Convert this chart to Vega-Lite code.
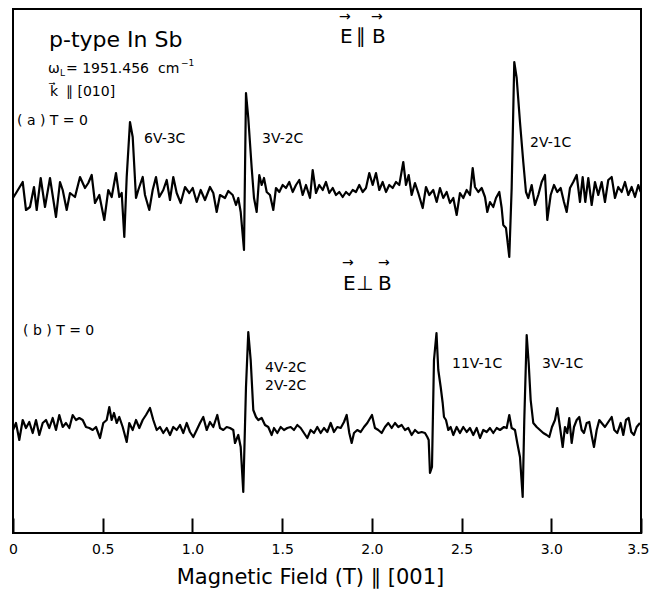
{
"$schema": "https://vega.github.io/schema/vega-lite/v6.json",
"width": 628, "height": 524,
"autosize": {"type": "none"},
"padding": {"left": 13, "top": 9, "right": 8, "bottom": 57},
"config": {"view": {"stroke": "black", "strokeWidth": 2}, "font": "DejaVu Sans"},
"datasets": {
"trace": [
{"trace":"a","tesla":0,"signal":335},{"trace":"a","tesla":0.0206,"signal":341},{"trace":"a","tesla":0.0541,"signal":351},{"trace":"a","tesla":0.0724,"signal":323},{"trace":"a","tesla":0.0947,"signal":326},{"trace":"a","tesla":0.117,"signal":346},{"trace":"a","tesla":0.1321,"signal":323},{"trace":"a","tesla":0.1544,"signal":355},{"trace":"a","tesla":0.1783,"signal":326},{"trace":"a","tesla":0.2062,"signal":355},{"trace":"a","tesla":0.2396,"signal":316},{"trace":"a","tesla":0.2619,"signal":351},{"trace":"a","tesla":0.277,"signal":343},{"trace":"a","tesla":0.2993,"signal":323},{"trace":"a","tesla":0.3177,"signal":340},{"trace":"a","tesla":0.3455,"signal":336},{"trace":"a","tesla":0.3734,"signal":356},{"trace":"a","tesla":0.4013,"signal":345},{"trace":"a","tesla":0.4196,"signal":350},{"trace":"a","tesla":0.4386,"signal":358},{"trace":"a","tesla":0.457,"signal":330},{"trace":"a","tesla":0.481,"signal":338},{"trace":"a","tesla":0.5088,"signal":313},{"trace":"a","tesla":0.5311,"signal":343},{"trace":"a","tesla":0.55,"signal":336},{"trace":"a","tesla":0.574,"signal":360},{"trace":"a","tesla":0.5924,"signal":336},{"trace":"a","tesla":0.6058,"signal":340},{"trace":"a","tesla":0.6203,"signal":296},{"trace":"a","tesla":0.6337,"signal":356},{"trace":"a","tesla":0.652,"signal":411},{"trace":"a","tesla":0.6671,"signal":396},{"trace":"a","tesla":0.6855,"signal":335},{"trace":"a","tesla":0.6983,"signal":343},{"trace":"a","tesla":0.7228,"signal":356},{"trace":"a","tesla":0.7356,"signal":338},{"trace":"a","tesla":0.7596,"signal":323},{"trace":"a","tesla":0.7785,"signal":343},{"trace":"a","tesla":0.7969,"signal":356},{"trace":"a","tesla":0.8153,"signal":336},{"trace":"a","tesla":0.8376,"signal":343},{"trace":"a","tesla":0.8566,"signal":353},{"trace":"a","tesla":0.875,"signal":333},{"trace":"a","tesla":0.8933,"signal":356},{"trace":"a","tesla":0.9123,"signal":340},{"trace":"a","tesla":0.9346,"signal":330},{"trace":"a","tesla":0.9586,"signal":346},{"trace":"a","tesla":0.9825,"signal":340},{"trace":"a","tesla":1.0015,"signal":345},{"trace":"a","tesla":1.0238,"signal":331},{"trace":"a","tesla":1.046,"signal":343},{"trace":"a","tesla":1.07,"signal":333},{"trace":"a","tesla":1.0979,"signal":346},{"trace":"a","tesla":1.1163,"signal":340},{"trace":"a","tesla":1.1352,"signal":321},{"trace":"a","tesla":1.1536,"signal":338},{"trace":"a","tesla":1.1815,"signal":335},{"trace":"a","tesla":1.1999,"signal":342},{"trace":"a","tesla":1.2244,"signal":338},{"trace":"a","tesla":1.2428,"signal":328},{"trace":"a","tesla":1.2556,"signal":335},{"trace":"a","tesla":1.269,"signal":321},{"trace":"a","tesla":1.2874,"signal":283},{"trace":"a","tesla":1.2985,"signal":440},{"trace":"a","tesla":1.3113,"signal":415},{"trace":"a","tesla":1.3303,"signal":365},{"trace":"a","tesla":1.3431,"signal":335},{"trace":"a","tesla":1.3581,"signal":321},{"trace":"a","tesla":1.3726,"signal":358},{"trace":"a","tesla":1.386,"signal":348},{"trace":"a","tesla":1.3988,"signal":355},{"trace":"a","tesla":1.4139,"signal":341},{"trace":"a","tesla":1.4323,"signal":338},{"trace":"a","tesla":1.4507,"signal":323},{"trace":"a","tesla":1.4657,"signal":345},{"trace":"a","tesla":1.4841,"signal":341},{"trace":"a","tesla":1.503,"signal":348},{"trace":"a","tesla":1.5214,"signal":345},{"trace":"a","tesla":1.5398,"signal":351},{"trace":"a","tesla":1.5588,"signal":341},{"trace":"a","tesla":1.5772,"signal":348},{"trace":"a","tesla":1.5955,"signal":353},{"trace":"a","tesla":1.6145,"signal":338},{"trace":"a","tesla":1.6329,"signal":348},{"trace":"a","tesla":1.6552,"signal":335},{"trace":"a","tesla":1.6702,"signal":363},{"trace":"a","tesla":1.6886,"signal":340},{"trace":"a","tesla":1.707,"signal":348},{"trace":"a","tesla":1.726,"signal":343},{"trace":"a","tesla":1.7443,"signal":351},{"trace":"a","tesla":1.7627,"signal":340},{"trace":"a","tesla":1.7817,"signal":345},{"trace":"a","tesla":1.8001,"signal":338},{"trace":"a","tesla":1.8185,"signal":341},{"trace":"a","tesla":1.8374,"signal":336},{"trace":"a","tesla":1.8558,"signal":341},{"trace":"a","tesla":1.8742,"signal":338},{"trace":"a","tesla":1.8931,"signal":343},{"trace":"a","tesla":1.9115,"signal":341},{"trace":"a","tesla":1.9299,"signal":348},{"trace":"a","tesla":1.9489,"signal":341},{"trace":"a","tesla":1.9673,"signal":345},{"trace":"a","tesla":1.9857,"signal":360},{"trace":"a","tesla":2.0046,"signal":348},{"trace":"a","tesla":2.023,"signal":360},{"trace":"a","tesla":2.0414,"signal":343},{"trace":"a","tesla":2.0603,"signal":351},{"trace":"a","tesla":2.0787,"signal":341},{"trace":"a","tesla":2.0971,"signal":348},{"trace":"a","tesla":2.1161,"signal":345},{"trace":"a","tesla":2.1345,"signal":351},{"trace":"a","tesla":2.1528,"signal":348},{"trace":"a","tesla":2.1751,"signal":371},{"trace":"a","tesla":2.1902,"signal":348},{"trace":"a","tesla":2.2052,"signal":358},{"trace":"a","tesla":2.2219,"signal":338},{"trace":"a","tesla":2.2403,"signal":350},{"trace":"a","tesla":2.2587,"signal":340},{"trace":"a","tesla":2.2833,"signal":325},{"trace":"a","tesla":2.3016,"signal":346},{"trace":"a","tesla":2.32,"signal":338},{"trace":"a","tesla":2.3423,"signal":343},{"trace":"a","tesla":2.3613,"signal":331},{"trace":"a","tesla":2.3797,"signal":345},{"trace":"a","tesla":2.398,"signal":335},{"trace":"a","tesla":2.417,"signal":341},{"trace":"a","tesla":2.4354,"signal":330},{"trace":"a","tesla":2.4538,"signal":335},{"trace":"a","tesla":2.4727,"signal":318},{"trace":"a","tesla":2.4911,"signal":340},{"trace":"a","tesla":2.5095,"signal":335},{"trace":"a","tesla":2.5285,"signal":343},{"trace":"a","tesla":2.5469,"signal":338},{"trace":"a","tesla":2.5619,"signal":365},{"trace":"a","tesla":2.5747,"signal":346},{"trace":"a","tesla":2.5931,"signal":341},{"trace":"a","tesla":2.6121,"signal":345},{"trace":"a","tesla":2.6305,"signal":336},{"trace":"a","tesla":2.6433,"signal":321},{"trace":"a","tesla":2.6583,"signal":331},{"trace":"a","tesla":2.6767,"signal":326},{"trace":"a","tesla":2.6918,"signal":335},{"trace":"a","tesla":2.7102,"signal":341},{"trace":"a","tesla":2.7235,"signal":325},{"trace":"a","tesla":2.7324,"signal":308},{"trace":"a","tesla":2.7475,"signal":305},{"trace":"a","tesla":2.7659,"signal":276},{"trace":"a","tesla":2.7792,"signal":345},{"trace":"a","tesla":2.7937,"signal":471},{"trace":"a","tesla":2.8071,"signal":455},{"trace":"a","tesla":2.8255,"signal":411},{"trace":"a","tesla":2.8439,"signal":371},{"trace":"a","tesla":2.8589,"signal":341},{"trace":"a","tesla":2.8718,"signal":335},{"trace":"a","tesla":2.8907,"signal":348},{"trace":"a","tesla":2.9091,"signal":328},{"trace":"a","tesla":2.9275,"signal":338},{"trace":"a","tesla":2.9464,"signal":351},{"trace":"a","tesla":2.9648,"signal":358},{"trace":"a","tesla":2.9777,"signal":313},{"trace":"a","tesla":2.9966,"signal":338},{"trace":"a","tesla":3.015,"signal":348},{"trace":"a","tesla":3.0334,"signal":341},{"trace":"a","tesla":3.0523,"signal":345},{"trace":"a","tesla":3.0707,"signal":331},{"trace":"a","tesla":3.0858,"signal":321},{"trace":"a","tesla":3.1042,"signal":345},{"trace":"a","tesla":3.1225,"signal":351},{"trace":"a","tesla":3.1415,"signal":358},{"trace":"a","tesla":3.1599,"signal":331},{"trace":"a","tesla":3.1749,"signal":356},{"trace":"a","tesla":3.1895,"signal":331},{"trace":"a","tesla":3.2062,"signal":355},{"trace":"a","tesla":3.2251,"signal":328},{"trace":"a","tesla":3.2435,"signal":351},{"trace":"a","tesla":3.2619,"signal":338},{"trace":"a","tesla":3.2808,"signal":351},{"trace":"a","tesla":3.2992,"signal":331},{"trace":"a","tesla":3.3176,"signal":353},{"trace":"a","tesla":3.3366,"signal":356},{"trace":"a","tesla":3.355,"signal":335},{"trace":"a","tesla":3.3733,"signal":346},{"trace":"a","tesla":3.3923,"signal":341},{"trace":"a","tesla":3.4107,"signal":351},{"trace":"a","tesla":3.4291,"signal":338},{"trace":"a","tesla":3.448,"signal":346},{"trace":"a","tesla":3.4664,"signal":336},{"trace":"a","tesla":3.4848,"signal":348},{"trace":"a","tesla":3.4981,"signal":341},
{"trace":"b","tesla":0,"signal":103},{"trace":"b","tesla":0.0167,"signal":110},{"trace":"b","tesla":0.0351,"signal":93},{"trace":"b","tesla":0.0541,"signal":113},{"trace":"b","tesla":0.0724,"signal":105},{"trace":"b","tesla":0.0908,"signal":111},{"trace":"b","tesla":0.1098,"signal":100},{"trace":"b","tesla":0.1282,"signal":113},{"trace":"b","tesla":0.1466,"signal":98},{"trace":"b","tesla":0.1655,"signal":110},{"trace":"b","tesla":0.1839,"signal":113},{"trace":"b","tesla":0.2023,"signal":105},{"trace":"b","tesla":0.2212,"signal":115},{"trace":"b","tesla":0.2396,"signal":103},{"trace":"b","tesla":0.258,"signal":118},{"trace":"b","tesla":0.277,"signal":106},{"trace":"b","tesla":0.2954,"signal":110},{"trace":"b","tesla":0.3138,"signal":105},{"trace":"b","tesla":0.3327,"signal":118},{"trace":"b","tesla":0.3511,"signal":113},{"trace":"b","tesla":0.3695,"signal":115},{"trace":"b","tesla":0.3884,"signal":113},{"trace":"b","tesla":0.4068,"signal":106},{"trace":"b","tesla":0.4252,"signal":105},{"trace":"b","tesla":0.4442,"signal":103},{"trace":"b","tesla":0.4626,"signal":106},{"trace":"b","tesla":0.4849,"signal":95},{"trace":"b","tesla":0.5032,"signal":110},{"trace":"b","tesla":0.5222,"signal":113},{"trace":"b","tesla":0.5367,"signal":126},{"trace":"b","tesla":0.55,"signal":113},{"trace":"b","tesla":0.5629,"signal":120},{"trace":"b","tesla":0.5779,"signal":110},{"trace":"b","tesla":0.5924,"signal":116},{"trace":"b","tesla":0.6114,"signal":106},{"trace":"b","tesla":0.6337,"signal":91},{"trace":"b","tesla":0.6481,"signal":110},{"trace":"b","tesla":0.6671,"signal":103},{"trace":"b","tesla":0.6855,"signal":113},{"trace":"b","tesla":0.7039,"signal":105},{"trace":"b","tesla":0.7228,"signal":113},{"trace":"b","tesla":0.7412,"signal":118},{"trace":"b","tesla":0.7635,"signal":125},{"trace":"b","tesla":0.7819,"signal":113},{"trace":"b","tesla":0.8008,"signal":103},{"trace":"b","tesla":0.8192,"signal":106},{"trace":"b","tesla":0.8376,"signal":100},{"trace":"b","tesla":0.8566,"signal":105},{"trace":"b","tesla":0.875,"signal":98},{"trace":"b","tesla":0.8933,"signal":106},{"trace":"b","tesla":0.9123,"signal":103},{"trace":"b","tesla":0.9307,"signal":108},{"trace":"b","tesla":0.9491,"signal":100},{"trace":"b","tesla":0.968,"signal":110},{"trace":"b","tesla":0.9864,"signal":101},{"trace":"b","tesla":1.0048,"signal":96},{"trace":"b","tesla":1.0238,"signal":103},{"trace":"b","tesla":1.0422,"signal":110},{"trace":"b","tesla":1.0605,"signal":116},{"trace":"b","tesla":1.0795,"signal":103},{"trace":"b","tesla":1.0979,"signal":111},{"trace":"b","tesla":1.1163,"signal":106},{"trace":"b","tesla":1.1385,"signal":118},{"trace":"b","tesla":1.1536,"signal":105},{"trace":"b","tesla":1.172,"signal":103},{"trace":"b","tesla":1.1909,"signal":106},{"trace":"b","tesla":1.2093,"signal":105},{"trace":"b","tesla":1.2277,"signal":103},{"trace":"b","tesla":1.2372,"signal":90},{"trace":"b","tesla":1.2556,"signal":98},{"trace":"b","tesla":1.269,"signal":86},{"trace":"b","tesla":1.2834,"signal":41},{"trace":"b","tesla":1.2985,"signal":146},{"trace":"b","tesla":1.3113,"signal":201},{"trace":"b","tesla":1.3247,"signal":173},{"trace":"b","tesla":1.3392,"signal":123},{"trace":"b","tesla":1.3542,"signal":116},{"trace":"b","tesla":1.3671,"signal":113},{"trace":"b","tesla":1.386,"signal":115},{"trace":"b","tesla":1.4044,"signal":108},{"trace":"b","tesla":1.4228,"signal":106},{"trace":"b","tesla":1.4417,"signal":98},{"trace":"b","tesla":1.4546,"signal":105},{"trace":"b","tesla":1.473,"signal":100},{"trace":"b","tesla":1.4919,"signal":106},{"trace":"b","tesla":1.5103,"signal":103},{"trace":"b","tesla":1.5287,"signal":105},{"trace":"b","tesla":1.5476,"signal":106},{"trace":"b","tesla":1.566,"signal":103},{"trace":"b","tesla":1.5844,"signal":108},{"trace":"b","tesla":1.6034,"signal":105},{"trace":"b","tesla":1.6217,"signal":100},{"trace":"b","tesla":1.6401,"signal":95},{"trace":"b","tesla":1.6591,"signal":103},{"trace":"b","tesla":1.6775,"signal":100},{"trace":"b","tesla":1.6959,"signal":106},{"trace":"b","tesla":1.7148,"signal":100},{"trace":"b","tesla":1.7332,"signal":105},{"trace":"b","tesla":1.7516,"signal":101},{"trace":"b","tesla":1.7705,"signal":110},{"trace":"b","tesla":1.7889,"signal":101},{"trace":"b","tesla":1.8073,"signal":106},{"trace":"b","tesla":1.8263,"signal":105},{"trace":"b","tesla":1.8447,"signal":111},{"trace":"b","tesla":1.8597,"signal":118},{"trace":"b","tesla":1.8742,"signal":100},{"trace":"b","tesla":1.8876,"signal":90},{"trace":"b","tesla":1.9004,"signal":100},{"trace":"b","tesla":1.9188,"signal":103},{"trace":"b","tesla":1.9378,"signal":101},{"trace":"b","tesla":1.9561,"signal":106},{"trace":"b","tesla":1.9745,"signal":110},{"trace":"b","tesla":2.0007,"signal":118},{"trace":"b","tesla":2.0174,"signal":105},{"trace":"b","tesla":2.0358,"signal":103},{"trace":"b","tesla":2.0548,"signal":100},{"trace":"b","tesla":2.0732,"signal":106},{"trace":"b","tesla":2.0916,"signal":110},{"trace":"b","tesla":2.1105,"signal":105},{"trace":"b","tesla":2.1289,"signal":110},{"trace":"b","tesla":2.1473,"signal":106},{"trace":"b","tesla":2.1662,"signal":108},{"trace":"b","tesla":2.1846,"signal":103},{"trace":"b","tesla":2.203,"signal":105},{"trace":"b","tesla":2.2219,"signal":98},{"trace":"b","tesla":2.2403,"signal":103},{"trace":"b","tesla":2.2587,"signal":100},{"trace":"b","tesla":2.2777,"signal":101},{"trace":"b","tesla":2.2961,"signal":100},{"trace":"b","tesla":2.309,"signal":96},{"trace":"b","tesla":2.3167,"signal":93},{"trace":"b","tesla":2.3239,"signal":60},{"trace":"b","tesla":2.3351,"signal":66},{"trace":"b","tesla":2.3462,"signal":173},{"trace":"b","tesla":2.3602,"signal":200},{"trace":"b","tesla":2.3702,"signal":163},{"trace":"b","tesla":2.3836,"signal":146},{"trace":"b","tesla":2.3947,"signal":130},{"trace":"b","tesla":2.402,"signal":116},{"trace":"b","tesla":2.4131,"signal":113},{"trace":"b","tesla":2.426,"signal":103},{"trace":"b","tesla":2.4393,"signal":106},{"trace":"b","tesla":2.4538,"signal":98},{"trace":"b","tesla":2.4727,"signal":106},{"trace":"b","tesla":2.4911,"signal":100},{"trace":"b","tesla":2.5095,"signal":106},{"trace":"b","tesla":2.5285,"signal":101},{"trace":"b","tesla":2.5469,"signal":105},{"trace":"b","tesla":2.5653,"signal":98},{"trace":"b","tesla":2.5842,"signal":105},{"trace":"b","tesla":2.6026,"signal":95},{"trace":"b","tesla":2.621,"signal":103},{"trace":"b","tesla":2.6399,"signal":101},{"trace":"b","tesla":2.6583,"signal":105},{"trace":"b","tesla":2.6767,"signal":100},{"trace":"b","tesla":2.6957,"signal":105},{"trace":"b","tesla":2.7141,"signal":103},{"trace":"b","tesla":2.7364,"signal":106},{"trace":"b","tesla":2.7514,"signal":105},{"trace":"b","tesla":2.7659,"signal":118},{"trace":"b","tesla":2.7792,"signal":105},{"trace":"b","tesla":2.7976,"signal":103},{"trace":"b","tesla":2.8105,"signal":90},{"trace":"b","tesla":2.8255,"signal":76},{"trace":"b","tesla":2.8406,"signal":36},{"trace":"b","tesla":2.8495,"signal":113},{"trace":"b","tesla":2.8629,"signal":198},{"trace":"b","tesla":2.874,"signal":170},{"trace":"b","tesla":2.8851,"signal":133},{"trace":"b","tesla":2.8997,"signal":110},{"trace":"b","tesla":2.9186,"signal":106},{"trace":"b","tesla":2.937,"signal":103},{"trace":"b","tesla":2.9554,"signal":100},{"trace":"b","tesla":2.9743,"signal":98},{"trace":"b","tesla":2.9888,"signal":96},{"trace":"b","tesla":3.0038,"signal":106},{"trace":"b","tesla":3.0206,"signal":113},{"trace":"b","tesla":3.0334,"signal":125},{"trace":"b","tesla":3.0484,"signal":106},{"trace":"b","tesla":3.0635,"signal":86},{"trace":"b","tesla":3.0763,"signal":106},{"trace":"b","tesla":3.0891,"signal":100},{"trace":"b","tesla":3.1003,"signal":115},{"trace":"b","tesla":3.1136,"signal":90},{"trace":"b","tesla":3.1265,"signal":106},{"trace":"b","tesla":3.1415,"signal":113},{"trace":"b","tesla":3.156,"signal":116},{"trace":"b","tesla":3.1694,"signal":103},{"trace":"b","tesla":3.1822,"signal":100},{"trace":"b","tesla":3.1972,"signal":110},{"trace":"b","tesla":3.2117,"signal":111},{"trace":"b","tesla":3.2267,"signal":96},{"trace":"b","tesla":3.2379,"signal":86},{"trace":"b","tesla":3.253,"signal":103},{"trace":"b","tesla":3.2675,"signal":113},{"trace":"b","tesla":3.2808,"signal":110},{"trace":"b","tesla":3.2992,"signal":106},{"trace":"b","tesla":3.3176,"signal":111},{"trace":"b","tesla":3.3366,"signal":116},{"trace":"b","tesla":3.3511,"signal":103},{"trace":"b","tesla":3.3678,"signal":100},{"trace":"b","tesla":3.3867,"signal":110},{"trace":"b","tesla":3.4013,"signal":98},{"trace":"b","tesla":3.4163,"signal":113},{"trace":"b","tesla":3.4312,"signal":115},{"trace":"b","tesla":3.4458,"signal":101},{"trace":"b","tesla":3.4608,"signal":98},{"trace":"b","tesla":3.4759,"signal":106},{"trace":"b","tesla":3.4942,"signal":110}
],
"heading": [{"tesla":0.2006,"signal":486,"label":"p-type In Sb"}],
"bigSymbols": [
{"tesla":1.8224,"signal":490,"label":"E"},{"tesla":1.9115,"signal":490,"label":"∥"},{"tesla":2.0007,"signal":490,"label":"B"},
{"tesla":1.8391,"signal":243,"label":"E"},{"tesla":1.9115,"signal":243,"label":"⊥"},{"tesla":2.0341,"signal":243,"label":"B"}
],
"bigArrows": [
{"tesla":1.8168,"signal":512,"label":"→"},{"tesla":1.9951,"signal":512,"label":"→"},
{"tesla":1.8335,"signal":266,"label":"→"},{"tesla":2.0341,"signal":266,"label":"→"}
],
"notes": [
{"tesla":0.195,"signal":460,"label":"ω"},
{"tesla":0.2954,"signal":460,"label":"= 1951.456"},
{"tesla":0.8081,"signal":460,"label":"cm"},
{"tesla":0.2062,"signal":437,"label":"k⃗"},
{"tesla":0.2954,"signal":437,"label":"∥ [010]"},
{"tesla":0.0223,"signal":408,"label":"( a ) T = 0"},
{"tesla":0.7301,"signal":390,"label":"6V-3C"},
{"tesla":1.3877,"signal":390,"label":"3V-2C"},
{"tesla":2.8812,"signal":386,"label":"2V-1C"},
{"tesla":0.0557,"signal":198,"label":"( b ) T = 0"},
{"tesla":1.4044,"signal":161,"label":"4V-2C"},
{"tesla":1.4044,"signal":143,"label":"2V-2C"},
{"tesla":2.4465,"signal":165,"label":"11V-1C"},
{"tesla":2.9481,"signal":165,"label":"3V-1C"}
],
"scripts": [
{"tesla":0.2619,"signal":457,"label":"L"},
{"tesla":0.9363,"signal":467,"label":"−1"}
]
},
"encoding": {
"x": {"field": "tesla", "type": "quantitative",
 "scale": {"domain": [0, 3.5], "nice": false, "zero": false},
 "axis": {"values": [0, 0.5, 1, 1.5, 2, 2.5, 3, 3.5],
  "labelExpr": "datum.value == 0 ? '0' : format(datum.value, '.1f')",
  "labelAlign": {"expr": "datum.value == 3.5 ? 'right' : 'center'"},
  "labelOffset": {"expr": "datum.value == 3.5 ? 8 : 0"},
  "domain": false, "grid": false, "ticks": true, "tickSize": -15, "tickWidth": 2, "tickColor": "black",
  "labelPadding": 24, "labelFontSize": 14, "labelColor": "black", "labelFont": "DejaVu Sans",
  "labelBound": false, "labelFlush": false, "labelOverlap": false,
  "title": "Magnetic Field (T) ∥ [001]", "titleFont": "DejaVu Sans", "titleFontSize": 21, "titleFontWeight": "normal",
  "titleColor": "black", "titlePadding": 10, "titleX": 297}},
"y": {"field": "signal", "type": "quantitative", "scale": {"domain": [0, 524], "nice": false, "zero": false}, "axis": null}
},
"layer": [
{"data": {"name": "trace"}, "mark": {"type": "line", "color": "black", "strokeWidth": 2.2, "strokeJoin": "round"}, "encoding": {"detail": {"field": "trace"}}},
{"data": {"name": "heading"}, "mark": {"type": "text", "align": "left", "baseline": "alphabetic", "fontSize": 22, "color": "black"}, "encoding": {"text": {"field": "label"}}},
{"data": {"name": "bigSymbols"}, "mark": {"type": "text", "align": "left", "baseline": "alphabetic", "fontSize": 20, "color": "black"}, "encoding": {"text": {"field": "label"}}},
{"data": {"name": "bigArrows"}, "mark": {"type": "text", "align": "left", "baseline": "alphabetic", "fontSize": 14, "color": "black"}, "encoding": {"text": {"field": "label"}}},
{"data": {"name": "notes"}, "mark": {"type": "text", "align": "left", "baseline": "alphabetic", "fontSize": 14, "color": "black"}, "encoding": {"text": {"field": "label"}}},
{"data": {"name": "scripts"}, "mark": {"type": "text", "align": "left", "baseline": "alphabetic", "fontSize": 9, "color": "black"}, "encoding": {"text": {"field": "label"}}}
]
}
